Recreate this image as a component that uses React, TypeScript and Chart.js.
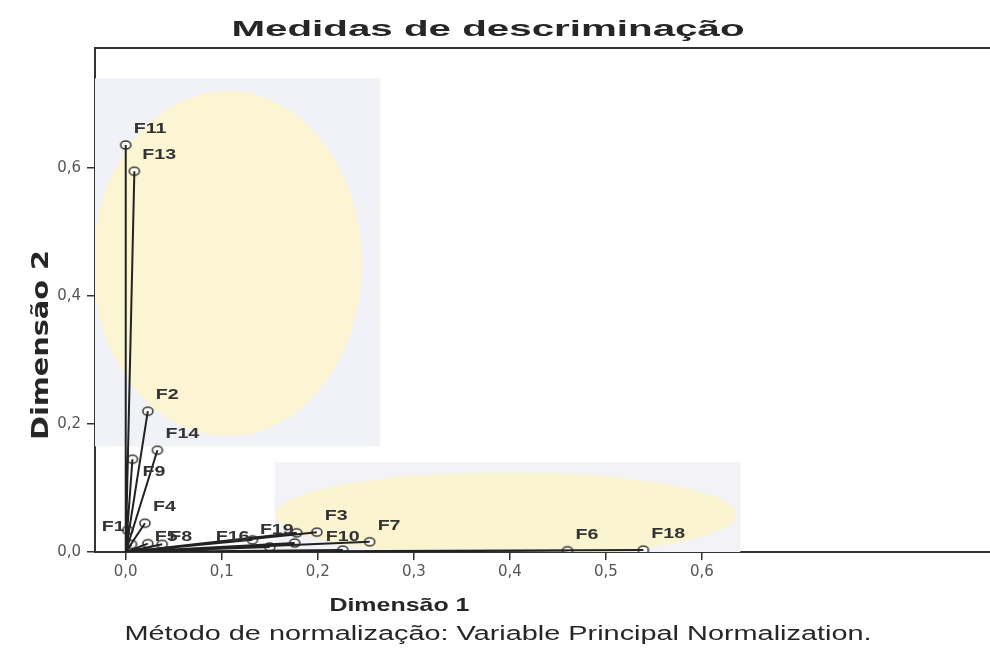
import React, { useEffect, useRef } from 'react';
import { Chart, registerables } from 'chart.js';

Chart.register(...registerables);

// ---- data ----
const variables = ['F1', 'F2', 'F3', 'F4', 'F5', 'F6', 'F7', 'F8', 'F9', 'F10', 'F11', 'F12', 'F13', 'F14', 'F15', 'F16', 'F17', 'F18', 'F19'];
const dimension1 = [0.002, 0.023, 0.199, 0.02, 0.023, 0.46, 0.254, 0.038, 0.007, 0.226, 0.0, 0.15, 0.009, 0.033, 0.176, 0.132, 0.006, 0.539, 0.178];
const dimension2 = [0.034, 0.22, 0.031, 0.045, 0.013, 0.002, 0.016, 0.012, 0.145, 0.003, 0.636, 0.008, 0.595, 0.159, 0.014, 0.019, 0.012, 0.003, 0.03];
// where each label sits relative to its point ('none' = label hidden under others)
const labelAnchor = ['w', 'ne', 'ne', 'ne', 'e', 'ne', 'ne', 'e', 'se', 'n', 'ne', 'none', 'ne', 'ne', 'none', 'w', 'none', 'ne', 'w'];

const xTickValues = [0, 0.1, 0.2, 0.3, 0.4, 0.5, 0.6];
const yTickValues = [0, 0.2, 0.4, 0.6];
const xRange = [-0.032, 0.9];
const yRange = [0, 0.7875];

const titleText = 'Medidas de descriminação';
const xTitleText = 'Dimensão 1';
const yTitleText = 'Dimensão 2';
const noteText = 'Método de normalização: Variable Principal Normalization.';

// faint scan highlights (in data units)
const highlightBoxes = [
  { x0: -0.032, x1: 0.265, y0: 0.165, y1: 0.74, color: '#f1f2f7' },
  { x0: 0.155, x1: 0.64, y0: -0.02, y1: 0.14, color: '#f2f2f7' },
];
const highlightEllipses = [
  { cx: 0.106, cy: 0.45, rx: 0.14, ry: 0.27, color: '#fcf5d3' },
  { cx: 0.396, cy: 0.058, rx: 0.24, ry: 0.066, color: '#fbf4d0' },
];

function fmt(v: number) {
  return v.toFixed(1).replace('.', ',');
}

function drawFit(ctx: CanvasRenderingContext2D, text: string, cx: number, by: number, targetW: number, font: string, color: string, rot = 0) {
  ctx.save();
  ctx.font = font;
  ctx.fillStyle = color;
  ctx.textAlign = 'center';
  ctx.textBaseline = 'alphabetic';
  const w = ctx.measureText(text).width;
  ctx.translate(cx, by);
  if (rot) ctx.rotate(rot);
  ctx.scale(targetW / w, 1);
  ctx.fillText(text, 0, 0);
  ctx.restore();
}

function makeMarker() {
  const c = document.createElement('canvas');
  c.width = 14;
  c.height = 12;
  const g = c.getContext('2d')!;
  g.beginPath();
  g.ellipse(7, 6, 5, 4, 0, 0, Math.PI * 2);
  g.fillStyle = 'rgba(255,255,255,0.85)';
  g.fill();
  g.lineWidth = 1.6;
  g.strokeStyle = '#3a3a30';
  g.stroke();
  return c;
}

const decorPlugin = {
  id: 'decor',
  beforeDatasetsDraw(chart: any) {
    const { ctx, chartArea } = chart;
    const xs = chart.scales.x;
    const ys = chart.scales.y;
    ctx.save();
    ctx.beginPath();
    ctx.rect(chartArea.left, chartArea.top, chartArea.right - chartArea.left, chartArea.bottom - chartArea.top);
    ctx.clip();
    highlightBoxes.forEach((b) => {
      const l = xs.getPixelForValue(b.x0);
      const r = xs.getPixelForValue(b.x1);
      const t = ys.getPixelForValue(b.y1);
      const bt = ys.getPixelForValue(b.y0);
      ctx.fillStyle = b.color;
      ctx.fillRect(l, t, r - l, bt - t);
    });
    highlightEllipses.forEach((e) => {
      const cx = xs.getPixelForValue(e.cx);
      const cy = ys.getPixelForValue(e.cy);
      const rx = Math.abs(xs.getPixelForValue(e.cx + e.rx) - cx);
      const ry = Math.abs(ys.getPixelForValue(e.cy + e.ry) - cy);
      ctx.beginPath();
      ctx.ellipse(cx, cy, rx, ry, 0, 0, Math.PI * 2);
      ctx.fillStyle = e.color;
      ctx.fill();
    });
    ctx.restore();
  },
  afterDraw(chart: any) {
    const { ctx, chartArea } = chart;
    const xs = chart.scales.x;
    // top frame line
    ctx.save();
    ctx.strokeStyle = '#333';
    ctx.lineWidth = 2;
    ctx.beginPath();
    ctx.moveTo(chartArea.left - 1, chartArea.top);
    ctx.lineTo(chart.width, chartArea.top);
    ctx.stroke();
    ctx.restore();

    // point labels
    const meta = chart.getDatasetMeta(1);
    ctx.save();
    ctx.font = 'bold 14px "Liberation Sans", Arial, sans-serif';
    ctx.fillStyle = '#333';
    ctx.textBaseline = 'middle';
    const sx = 1.4;
    meta.data.forEach((pt: any, i: number) => {
      const a = labelAnchor[i];
      if (a === 'none') return;
      let x = pt.x;
      let y = pt.y;
      let align: CanvasTextAlign = 'left';
      if (a === 'ne') { x += 8; y -= 16; }
      else if (a === 'e') { x += 7; y -= 7; }
      else if (a === 'se') { x += 10; y += 13; }
      else if (a === 'w') { x -= 3; y -= 3; align = 'right'; }
      else if (a === 'n') { y -= 13; align = 'center'; }
      ctx.save();
      ctx.textAlign = align;
      ctx.translate(x, y);
      ctx.scale(sx, 1);
      ctx.fillText(variables[i], 0, 0);
      ctx.restore();
    });
    ctx.restore();

    // titles
    drawFit(ctx, titleText, 488, 36, 513, 'bold 22px "Liberation Sans", Arial, sans-serif', '#262626');
    drawFit(ctx, xTitleText, xs.getPixelForValue(0.285), 611, 140, 'bold 19px "Liberation Sans", Arial, sans-serif', '#262626');
    drawFit(ctx, noteText, 498, 640, 747, '20px "Liberation Sans", Arial, sans-serif', '#262626');
    drawFit(ctx, yTitleText, 48, 345, 190, 'bold 23px "Liberation Sans Narrow", "DejaVu Sans Condensed", sans-serif', '#262626', -Math.PI / 2);
  },
};

export default function App() {
  const ref = useRef<HTMLCanvasElement | null>(null);

  useEffect(() => {
    document.body.style.margin = '0';
    const canvas = ref.current;
    if (!canvas) return;
    const marker = makeMarker();

    const linePoints: { x: number; y: number }[] = [];
    variables.forEach((_, i) => {
      linePoints.push({ x: 0, y: 0 });
      linePoints.push({ x: dimension1[i], y: dimension2[i] });
    });
    const points = variables.map((_, i) => ({ x: dimension1[i], y: dimension2[i] }));

    const chart = new Chart(canvas, {
      type: 'scatter',
      data: {
        datasets: [
          {
            data: linePoints,
            showLine: true,
            borderColor: '#222',
            borderWidth: 2,
            pointRadius: 0,
            pointHoverRadius: 0,
          } as any,
          {
            data: points,
            pointStyle: marker as any,
            pointRadius: 6,
            borderColor: '#333',
          } as any,
        ],
      },
      options: {
        animation: false,
        responsive: false,
        layout: { autoPadding: false, padding: { top: 48, left: 0, right: 0, bottom: 0 } },
        plugins: {
          legend: { display: false },
          title: { display: false },
          tooltip: { enabled: false },
        },
        scales: {
          x: {
            type: 'linear',
            min: xRange[0],
            max: xRange[1],
            afterBuildTicks: (s: any) => {
              s.ticks = xTickValues.map((v) => ({ value: v }));
            },
            afterFit: (s: any) => {
              s.height = 97;
              s.paddingRight = 0;
              s.paddingLeft = 0;
            },
            grid: {
              drawOnChartArea: false,
              drawTicks: true,
              tickLength: 8,
              color: '#333',
              lineWidth: 1.5,
            },
            border: { display: true, color: '#333', width: 2 },
            ticks: {
              callback: (v: any) => fmt(Number(v)),
              font: { family: '"DejaVu Sans", sans-serif', size: 15 },
              color: '#555',
              padding: 3,
              maxRotation: 0,
              autoSkip: false,
            },
          },
          y: {
            type: 'linear',
            min: yRange[0],
            max: yRange[1],
            afterBuildTicks: (s: any) => {
              s.ticks = yTickValues.map((v) => ({ value: v }));
            },
            afterFit: (s: any) => {
              s.width = 95;
              s.paddingTop = 0;
              s.paddingBottom = 0;
            },
            grid: {
              drawOnChartArea: false,
              drawTicks: true,
              tickLength: 8,
              color: '#333',
              lineWidth: 1.5,
            },
            border: { display: true, color: '#333', width: 2 },
            ticks: {
              callback: (v: any) => fmt(Number(v)),
              font: { family: '"DejaVu Sans", sans-serif', size: 15 },
              color: '#555',
              padding: 6,
              autoSkip: false,
            },
          },
        },
      },
      plugins: [decorPlugin],
    });

    return () => chart.destroy();
  }, []);

  return (
    <div style={{ position: 'fixed', left: 0, top: 0, width: 990, height: 649, background: '#fff' }}>
      <canvas ref={ref} width={990} height={649} />
    </div>
  );
}
